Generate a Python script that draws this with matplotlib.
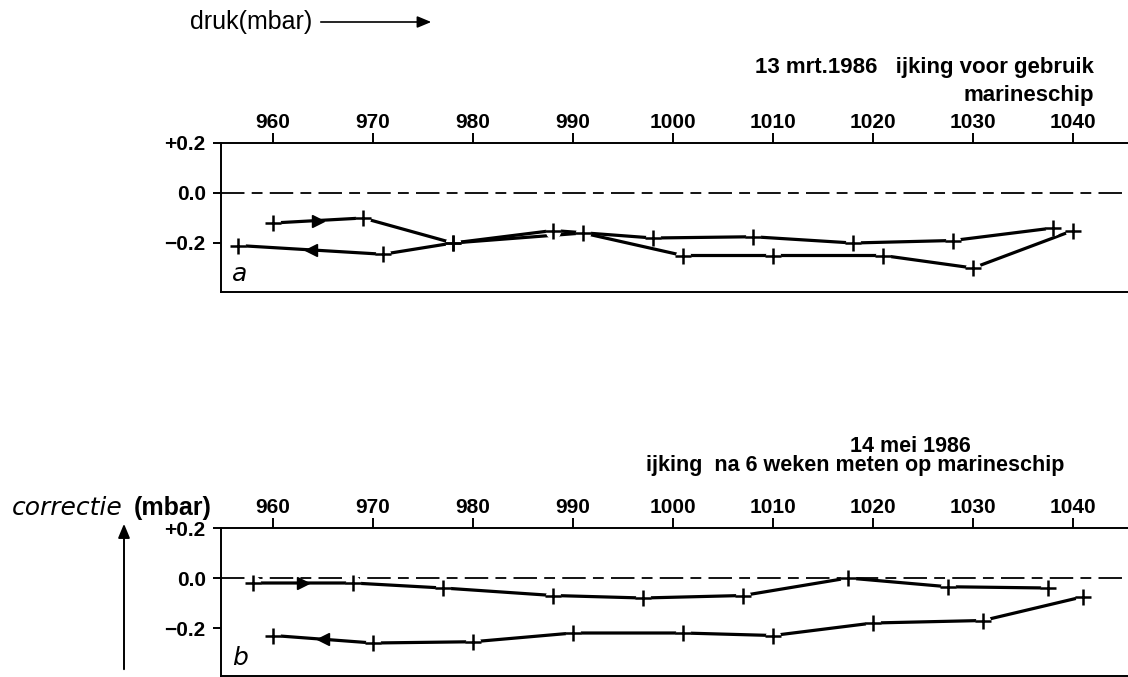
import matplotlib.pyplot as plt
from matplotlib.patches import FancyArrowPatch

# Druk (mbar) en correctie (mbar), paneel a: 13 mrt. 1986
a_op_x = [960, 969, 978, 988, 998, 1008, 1018, 1028, 1038]
a_op_y = [-0.12, -0.10, -0.20, -0.15, -0.18, -0.175, -0.20, -0.19, -0.14]
a_neer_x = [1040, 1030, 1021, 1010, 1001, 991, 978, 971, 956.5]
a_neer_y = [-0.15, -0.30, -0.25, -0.25, -0.25, -0.16, -0.20, -0.245, -0.21]

# paneel b: 14 mei 1986
b_op_x = [958, 968, 977, 988, 997, 1007, 1017.5, 1027.5, 1037.5]
b_op_y = [-0.02, -0.02, -0.04, -0.07, -0.08, -0.07, 0.0, -0.035, -0.04]
b_neer_x = [1041, 1031, 1020, 1010, 1001, 990, 980, 970, 960]
b_neer_y = [-0.075, -0.17, -0.18, -0.23, -0.22, -0.22, -0.255, -0.26, -0.23]

x_ticks = [960, 970, 980, 990, 1000, 1010, 1020, 1030, 1040]
y_ticks = [0.2, 0.0, -0.2]
y_labels = ['+0.2', '0.0', '\u22120.2']

FONT = 'Liberation Sans'
W, H = 1128, 677


def fx(px):
    return px / W


def fy(py):
    return 1 - py / H


def paneel(ax, op_x, op_y, neer_x, neer_y, ylo, letter):
    ax.set_xlim(954.8, 1045.5)
    ax.set_ylim(ylo, 0.2)
    ax.axhline(0, color='k', lw=1.3, dashes=(13, 4, 6, 4), zorder=1)
    for xs, ys in [(op_x, op_y), (neer_x, neer_y)]:
        ax.plot(xs, ys, color='k', lw=2.3, solid_capstyle='butt', zorder=2)
        ax.plot(xs, ys, 'o', ms=10, color='white', zorder=3)
        ax.plot(xs, ys, '+', ms=11, mew=1.8, color='k', zorder=4)
    # pijlen halverwege het stuk bij 960-970
    ax.plot((op_x[0] + op_x[1]) / 2, (op_y[0] + op_y[1]) / 2, '>',
            ms=9, color='k', zorder=5)
    ax.plot((neer_x[-1] + neer_x[-2]) / 2, (neer_y[-1] + neer_y[-2]) / 2, '<',
            ms=9, color='k', zorder=5)
    ax.spines['right'].set_visible(False)
    for s in ['left', 'top', 'bottom']:
        ax.spines[s].set_linewidth(1.4)
    ax.xaxis.tick_top()
    ax.set_xticks(x_ticks)
    ax.set_xticklabels([str(t) for t in x_ticks], fontsize=15,
                       fontweight='bold', family=FONT)
    ax.set_yticks(y_ticks)
    ax.set_yticklabels(y_labels, fontsize=15, fontweight='bold', family=FONT)
    ax.tick_params(axis='x', length=7, width=1.4, pad=1)
    ax.tick_params(axis='y', length=6, width=1.4, pad=5)
    ax.text(0.012, 0.04, letter, transform=ax.transAxes, fontsize=18,
            style='italic', family='DejaVu Sans', va='bottom')


fig = plt.figure(figsize=(W / 100, H / 100), dpi=100)

ax_a = fig.add_axes([fx(221), fy(292), fx(W - 221), (292 - 143) / H])
paneel(ax_a, a_op_x, a_op_y, a_neer_x, a_neer_y, -0.396, 'a')

ax_b = fig.add_axes([fx(221), fy(676), fx(W - 221), (676 - 528) / H])
paneel(ax_b, b_op_x, b_op_y, b_neer_x, b_neer_y, -0.392, 'b')

# teksten
fig.text(fx(190), fy(22), 'druk(mbar)', fontsize=18, family=FONT,
         va='center', ha='left')
fig.add_artist(FancyArrowPatch(
    (fx(318), fy(22)), (fx(434), fy(22)), transform=fig.transFigure,
    arrowstyle='-|>,head_length=0.6,head_width=0.25', lw=1.2, color='k',
    mutation_scale=14))

fig.text(fx(1094), fy(67), '13 mrt.1986   ijking voor gebruik', fontsize=16,
         fontweight='bold', family=FONT, ha='right', va='center')
fig.text(fx(1094), fy(96), 'marineschip', fontsize=16, fontweight='bold',
         family=FONT, ha='right', va='center')

fig.text(fx(910), fy(446), '14 mei 1986', fontsize=15.5, fontweight='bold',
         family=FONT, ha='center', va='center')
fig.text(fx(1064), fy(466), 'ijking  na 6 weken meten op marineschip',
         fontsize=15.5, fontweight='bold', family=FONT, ha='right',
         va='center')

fig.text(fx(12), fy(508), 'correctie', fontsize=18, style='italic',
         family='DejaVu Sans', va='center', ha='left')
fig.text(fx(134), fy(508), '(mbar)', fontsize=18, fontweight='bold',
         family=FONT, va='center', ha='left')
fig.add_artist(FancyArrowPatch(
    (fx(124), fy(672)), (fx(124), fy(521)), transform=fig.transFigure,
    arrowstyle='-|>,head_length=0.6,head_width=0.25', lw=1.4, color='k',
    mutation_scale=14))

fig.savefig('out.png', dpi=100)
